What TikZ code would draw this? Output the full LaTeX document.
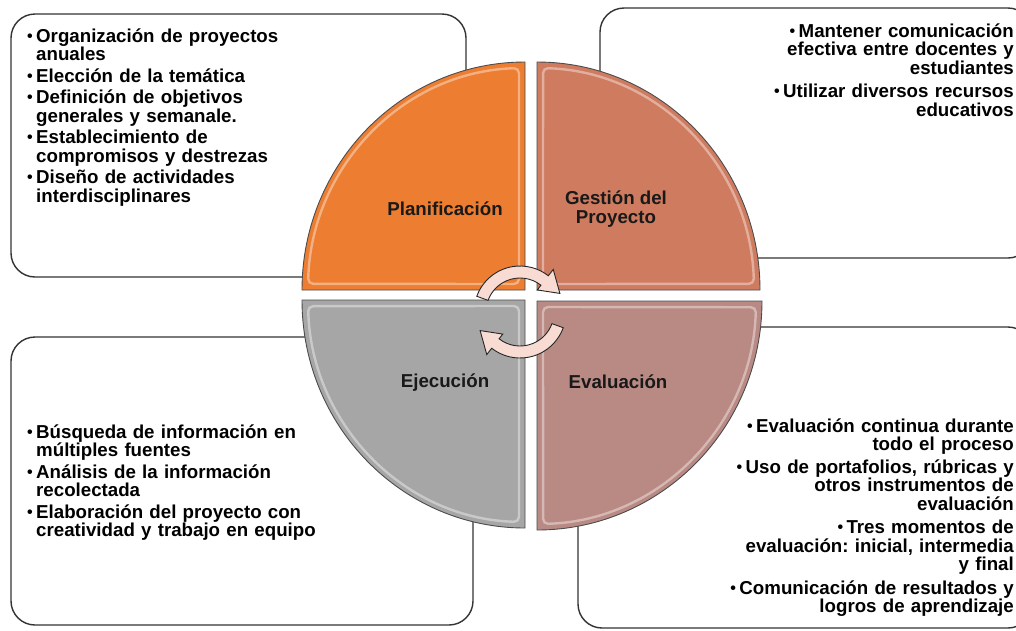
\documentclass[tikz,border=0pt]{standalone}
\usepackage{fontspec}
\setmainfont{Liberation Sans}
\definecolor{planif}{HTML}{EC7D31}
\definecolor{gestion}{HTML}{CF7B5F}
\definecolor{evalua}{HTML}{B98983}
\definecolor{ejecu}{HTML}{A6A6A6}
\definecolor{flechac}{HTML}{F8DCD3}
\newcommand{\vin}{\makebox[9pt][l]{\raisebox{1pt}{\fontsize{16}{16}\selectfont\textbullet}}}
\newcommand{\sangria}{\hspace*{9pt}}
\newcommand{\letralista}{\fontsize{18.7}{18.5}\selectfont\bfseries\frenchspacing\lineskiplimit-30pt\relax}
\tikzset{
  caja/.style={draw=black!80, line width=1.4pt, rounded corners=24pt, fill=white},
  lista/.style={font=\letralista, inner sep=0pt, text width=340pt},
  sector/.style={draw=black!70, line width=0.9pt},
  brillo/.style={draw=white, opacity=0.4, line width=2.4pt, rounded corners=5pt},
  titulo/.style={font=\letralista, inner sep=0pt, text=black!90},
  flecha/.style={fill=flechac, draw=black!85, line width=0.9pt},
}
\begin{document}
\begin{tikzpicture}[x=1pt, y=-1pt]
  \useasboundingbox (0,0) rectangle (1016,630);
  \fill[white] (0,0) rectangle (1016,630);
  % 네 모서리의 둥근 상자
  \draw[caja] (11,14) rectangle (466,277);
  \draw[caja] (600,8) rectangle (1032,258);
  \draw[caja] (11,337) rectangle (473,625);
  \draw[caja] (578,327) rectangle (1032,628);
  \node[lista, anchor=base west, align=left] (txtplan) at (27,42)
    {\vin Organización de proyectos\\ \sangria anuales\\[3pt]
     \vin Elección de la temática\\[3pt]
     \vin Definición de objetivos\\ \sangria generales y semanale.\\[3pt]
     \vin Establecimiento de\\ \sangria compromisos y destrezas\\[3pt]
     \vin Diseño de actividades\\ \sangria interdisciplinares};
  \node[lista, anchor=base east, align=right] (txtgest) at (1014,37)
    {\vin Mantener comunicación\\ efectiva entre docentes y\\ estudiantes\\[5pt]
     \vin Utilizar diversos recursos\\ educativos};
  \node[lista, anchor=base west, align=left] (txtejec) at (27,438)
    {\vin Búsqueda de información en\\ \sangria múltiples fuentes\\[3pt]
     \vin Análisis de la información\\ \sangria recolectada\\[3pt]
     \vin Elaboración del proyecto con\\ \sangria creatividad y trabajo en equipo};
  \node[lista, anchor=base east, align=right] (txteval) at (1014,432)
    {\vin Evaluación continua durante\\ todo el proceso\\[4pt]
     \vin Uso de portafolios, rúbricas y\\ otros instrumentos de\\ evaluación\\[5pt]
     \vin Tres momentos de\\ evaluación: inicial, intermedia\\ y final\\[5pt]
     \vin Comunicación de resultados y\\ logros de aprendizaje};
  % 가운데 원을 이루는 네 부채꼴
  \begin{scope}[shift={(525,290)}]
    \fill[planif] (0,0) -- (180:223 and 228) arc[start angle=180, end angle=270, x radius=223, y radius=228] -- cycle;
    \draw[brillo] (-6,-6) -- (181.6:217 and 222) arc[start angle=181.6, end angle=268.4, x radius=217, y radius=222] -- cycle;
    \draw[sector] (0,0) -- (180:223 and 228) arc[start angle=180, end angle=270, x radius=223, y radius=228] -- cycle;
  \end{scope}
  \begin{scope}[shift={(537,290)}]
    \fill[gestion] (0,0) -- (270:223 and 228) arc[start angle=270, end angle=360, x radius=223, y radius=228] -- cycle;
    \draw[brillo] (6,-6) -- (271.6:217 and 222) arc[start angle=271.6, end angle=358.4, x radius=217, y radius=222] -- cycle;
    \draw[sector] (0,0) -- (270:223 and 228) arc[start angle=270, end angle=360, x radius=223, y radius=228] -- cycle;
  \end{scope}
  \begin{scope}[shift={(537,301)}]
    \fill[evalua] (0,0) -- (0:225 and 229) arc[start angle=0, end angle=90, x radius=225, y radius=229] -- cycle;
    \draw[brillo] (6,6) -- (1.6:219 and 223) arc[start angle=1.6, end angle=88.4, x radius=219, y radius=223] -- cycle;
    \draw[sector] (0,0) -- (0:225 and 229) arc[start angle=0, end angle=90, x radius=225, y radius=229] -- cycle;
  \end{scope}
  \begin{scope}[shift={(525,300)}]
    \fill[ejecu] (0,0) -- (90:223 and 228) arc[start angle=90, end angle=180, x radius=223, y radius=228] -- cycle;
    \draw[brillo] (-6,6) -- (91.6:217 and 222) arc[start angle=91.6, end angle=178.4, x radius=217, y radius=222] -- cycle;
    \draw[sector] (0,0) -- (90:223 and 228) arc[start angle=90, end angle=180, x radius=223, y radius=228] -- cycle;
  \end{scope}
  \node[titulo, anchor=base] (plan) at (445,215) {Planificación};
  \node[titulo, align=center] (gest) at (616,209) {Gestión del\\Proyecto};
  \node[titulo, anchor=base] (ejec) at (445,387) {Ejecución};
  \node[titulo, anchor=base] (eval) at (618,388) {Evaluación};
  % 순환 화살표
  \begin{scope}[shift={(520,312)}]
    \filldraw[flecha] (-160:46) arc[start angle=-160, end angle=-52, radius=46] -- (-52:54) -- (-25:44)
      -- (-52:28) -- (-52:34) arc[start angle=-52, end angle=-160, radius=34] -- cycle;
    \filldraw[flecha] (20:46) arc[start angle=20, end angle=128, radius=46] -- (128:54) -- (155:44)
      -- (128:28) -- (128:34) arc[start angle=128, end angle=20, radius=34] -- cycle;
  \end{scope}
\end{tikzpicture}
\end{document}
